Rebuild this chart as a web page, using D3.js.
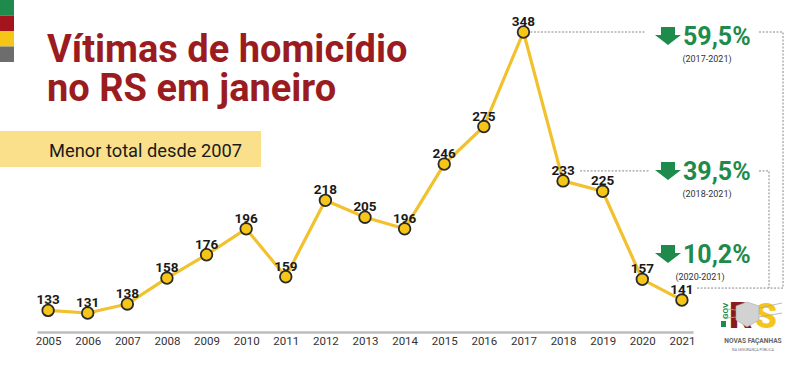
<!DOCTYPE html>
<html>
<head>
<meta charset="utf-8">
<script src="https://cdn.jsdelivr.net/npm/d3@7"></script>
<style>
  body { margin: 0; background: #fff; }
  svg { font-family: Roboto, "Noto Sans", sans-serif; display: block; }
</style>
</head>
<body>
<div id="chart"></div>
<script>
const years = [2005, 2006, 2007, 2008, 2009, 2010, 2011, 2012, 2013, 2014, 2015, 2016, 2017, 2018, 2019, 2020, 2021];
const victims = [133, 131, 138, 158, 176, 196, 159, 218, 205, 196, 246, 275, 348, 233, 225, 157, 141];
// queda percentual: [ano inicial, ano final, texto]
const drops = [
  [2017, 2021, "59,5%"],
  [2018, 2021, "39,5%"],
  [2020, 2021, "10,2%"]
];
const stripeColors = ["#1e8b4c", "#a3141c", "#f5c518", "#6d6d6d"];

const w = 800;
const h = 369;
const svg = d3.select("#chart").append("svg").attr("width", w).attr("height", h);

// faixas coloridas no canto
svg.selectAll("rect.stripe")
  .data(stripeColors)
  .enter()
  .append("rect")
  .attr("class", "stripe")
  .attr("x", 0)
  .attr("y", (d, i) => i * 15.5)
  .attr("width", 14)
  .attr("height", 15.5)
  .attr("fill", (d) => d);

const title = svg.append("text")
  .attr("font-size", 38).attr("font-weight", 700).attr("fill", "#9b1c20");
title.append("tspan").attr("x", 47).attr("y", 62).text("Vítimas de homicídio");
title.append("tspan").attr("x", 47).attr("y", 101).text("no RS em janeiro");

svg.append("rect")
  .attr("x", 0).attr("y", 131).attr("width", 261).attr("height", 36)
  .attr("fill", "#fbe08c");
svg.append("text")
  .attr("x", 49).attr("y", 157)
  .attr("font-size", 18.3).attr("fill", "#1a1a1a")
  .text("Menor total desde 2007");

const xScale = d3.scalePoint().domain(years).range([37, 693]).padding(0.28);
const yScale = d3.scaleLinear().domain([131, 348]).range([313, 32]);

const xAxis = d3.axisBottom(xScale).tickSize(0).tickSizeOuter(0).tickPadding(5);
const gx = svg.append("g")
  .attr("transform", "translate(0," + 332 + ")")
  .call(xAxis);
gx.select(".domain").attr("stroke", "#bdbdbd").attr("stroke-width", 2.5);
gx.selectAll("text")
  .attr("font-size", 11.5)
  .attr("font-family", "Roboto, sans-serif")
  .attr("fill", "#333");

// linhas tracejadas das comparações
const xRight1 = 783;
const xRight2 = 769;
const yEnd = yScale(141) - 12;
const dash = { stroke: "#888", "stroke-width": 1, "stroke-dasharray": "2,1.5" };
function dashed(points) {
  const p = svg.append("path")
    .attr("d", d3.line()(points))
    .attr("fill", "none");
  Object.entries(dash).forEach(([k, v]) => p.attr(k, v));
}
dashed([[xScale(2017) + 7, yScale(348)], [645, yScale(348)]]);
dashed([[759, yScale(348)], [xRight1, yScale(348)], [xRight1, yEnd], [xScale(2021) + 14, yEnd]]);
dashed([[xScale(2018) + 17, yScale(233) - 10], [650, yScale(233) - 10]]);
dashed([[759, yScale(233) - 10], [xRight2, yScale(233) - 10], [xRight2, yEnd]]);

const line = d3.line()
  .x((d, i) => xScale(years[i]))
  .y((d) => yScale(d));
svg.append("path")
  .datum(victims)
  .attr("d", line)
  .attr("fill", "none")
  .attr("stroke", "#f2c12e")
  .attr("stroke-width", 3.2)
  .attr("stroke-linejoin", "round");

svg.selectAll("circle.pt")
  .data(victims)
  .enter()
  .append("circle")
  .attr("class", "pt")
  .attr("cx", (d, i) => xScale(years[i]))
  .attr("cy", (d) => yScale(d))
  .attr("r", 5.8)
  .attr("fill", "#f5c518")
  .attr("stroke", "#2a2a2a")
  .attr("stroke-width", 1.8);

svg.selectAll("text.val")
  .data(victims)
  .enter()
  .append("text")
  .attr("class", "val")
  .attr("x", (d, i) => xScale(years[i]))
  .attr("y", (d) => yScale(d) - 6)
  .attr("text-anchor", "middle")
  .attr("font-size", 13.5)
  .attr("font-weight", 700)
  .attr("fill", "#1a1a1a")
  .text((d) => d);

// setas e percentuais
const dropY = [36, 171, 254];
const subX = [707, 707, 700];
drops.forEach((d, i) => {
  const cy = dropY[i];
  const ax = 668;
  svg.append("path")
    .attr("d", "M" + (ax - 7) + "," + (cy - 9) + "H" + (ax + 7) + "V" + (cy - 1) + "H" + (ax + 13) +
      "L" + ax + "," + (cy + 9) + "L" + (ax - 13) + "," + (cy - 1) + "H" + (ax - 7) + "Z")
    .attr("fill", "#1e8b4c");
  svg.append("text")
    .attr("x", 683).attr("y", cy + 9)
    .attr("font-size", 25).attr("font-weight", 700).attr("fill", "#1e8b4c")
    .text(d[2]);
  svg.append("text")
    .attr("x", subX[i]).attr("y", cy + 26)
    .attr("text-anchor", "middle")
    .attr("font-size", 9).attr("fill", "#333")
    .text("(" + d[0] + "-" + d[1] + ")");
});

// logotipo
const logo = svg.append("g");
logo.append("rect").attr("x", 721).attr("y", 321).attr("width", 5).attr("height", 6).attr("fill", "#1e8b4c");
logo.append("text")
  .attr("transform", "translate(727.5,319) rotate(-90)")
  .attr("font-size", 8).attr("font-weight", 700).attr("fill", "#1e8b4c")
  .text("GOV");
logo.append("text")
  .attr("x", 729).attr("y", 328)
  .attr("font-size", 36).attr("font-weight", 900).attr("fill", "#8b1a1e")
  .text("R");
logo.append("text")
  .attr("x", 755).attr("y", 328)
  .attr("font-size", 35).attr("font-weight", 900).attr("fill", "#f5c518")
  .text("S");
logo.append("path")
  .attr("d", "M736,306 L747,302 L759,306 L759,320 L747,327 L736,320 Z")
  .attr("fill", "#d2d2d2").attr("stroke", "#aaa").attr("stroke-width", 0.6);
logo.append("path")
  .attr("d", "M727,309 L736,310 M759,308 L782,303 M727,318 L736,317 M759,317 L782,313")
  .attr("stroke", "#aaa").attr("stroke-width", 0.8);
logo.append("text")
  .attr("x", 753).attr("y", 342.5)
  .attr("text-anchor", "middle")
  .attr("font-size", 6.6).attr("font-weight", 700).attr("fill", "#666")
  .text("NOVAS FAÇANHAS");
logo.append("text")
  .attr("x", 753).attr("y", 351)
  .attr("text-anchor", "middle")
  .attr("font-size", 3.6).attr("fill", "#777")
  .text("NA SEGURANÇA PÚBLICA");
</script>
</body>
</html>
